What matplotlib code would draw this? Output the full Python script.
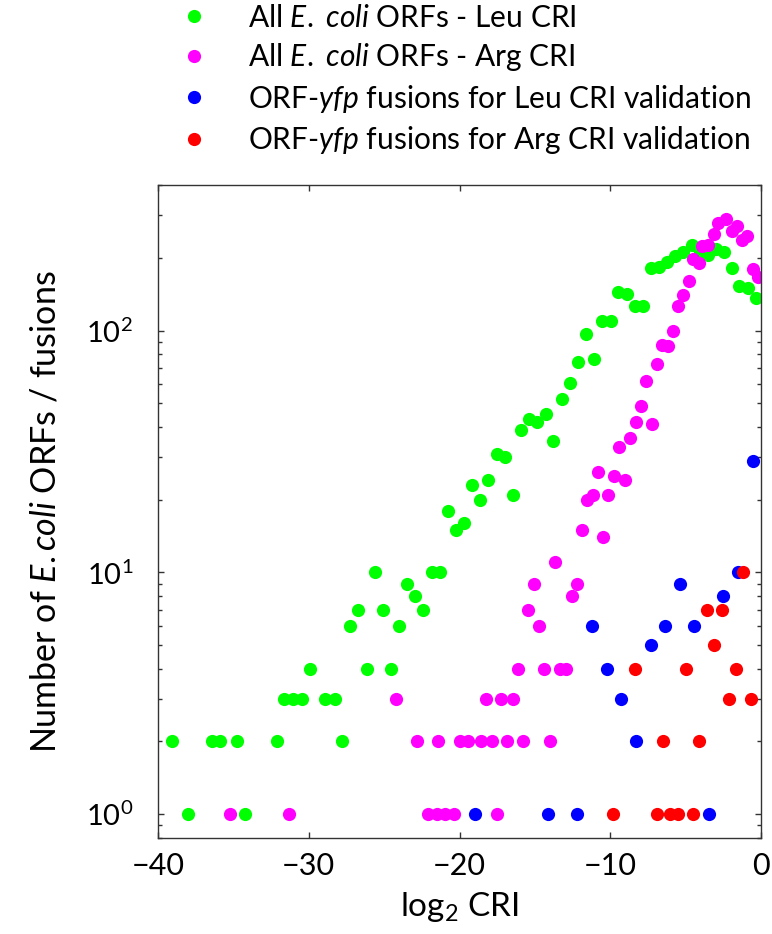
"""Counts of E. coli ORFs / ORF-yfp fusions against log2 CRI (log-scale y)."""

import matplotlib
matplotlib.use("Agg")
import matplotlib.pyplot as plt

plt.rcParams['font.family'] = ['Lato', 'DejaVu Sans']
plt.rcParams['mathtext.fontset'] = 'custom'
plt.rcParams['mathtext.rm'] = 'Lato'
plt.rcParams['mathtext.it'] = 'Lato:italic'

# All E. coli ORFs - Leu CRI (green)
LEU_X = [-37.99, -34.23,
         -39.09, -36.44, -35.89, -34.78, -32.09, -27.77,
         -31.64, -31.02, -30.47, -28.92, -28.26,
         -29.92, -26.16, -24.54,
         -27.26, -23.99,
         -26.71, -25.05, -22.40,
         -22.95, -23.50,
         -25.60, -21.84, -21.29,
         -20.74, -20.23, -19.68, -19.15, -18.64, -18.09, -17.53, -16.98, -16.47,
         -15.94, -15.39, -14.84, -14.28, -13.78, -13.22, -12.67, -12.16, -11.61,
         -11.08, -10.53, -9.98, -9.47, -8.91, -8.36, -7.81, -7.32, -6.77, -6.26,
         -5.71, -5.15, -4.60, -4.05, -3.50, -2.99, -2.43, -1.90, -1.44, -0.84, -0.33]
LEU_N = [1, 1,
         2, 2, 2, 2, 2, 2,
         3, 3, 3, 3, 3,
         4, 4, 4,
         6, 6,
         7, 7, 7,
         8, 9,
         10, 10, 10,
         18, 15, 16, 23, 20, 24, 31, 30, 21,
         39, 43, 42, 45, 35, 52, 61, 74, 97,
         76, 110, 110, 144, 142, 127, 127, 181, 183, 193,
         204, 212, 226, 212, 205, 218, 211, 182, 153, 150, 137]

# All E. coli ORFs - Arg CRI (magenta)
ARG_X = [-35.22, -31.31, -22.07, -21.52, -20.96, -20.40, -17.53,
         -22.84, -21.45, -19.97, -19.42, -18.59, -17.86, -16.83, -15.77, -14.00,
         -24.23, -18.24, -17.25, -16.47,
         -16.14, -14.37, -13.33, -12.94,
         -14.71, -15.44, -12.56, -15.04, -12.23, -13.67,
         -11.90, -11.52, -11.17, -10.83, -10.46, -10.13, -9.75, -9.42, -9.02,
         -8.69, -8.31, -7.98, -7.63, -7.25, -6.92, -6.59, -6.15, -5.86, -5.53,
         -5.15, -4.78, -4.49, -4.09, -3.94, -3.50, -3.10, -2.83, -2.32, -1.94,
         -1.61, -1.28, -0.90, -0.55, -0.18]
ARG_N = [1, 1, 1, 1, 1, 1, 1,
         2, 2, 2, 2, 2, 2, 2, 2, 2,
         3, 3, 3, 3,
         4, 4, 4, 4,
         6, 7, 8, 9, 9, 11,
         15, 20, 21, 26, 14, 21, 25, 33, 24,
         36, 42, 49, 62, 41, 73, 87, 86, 100, 127,
         140, 160, 197, 190, 224, 227, 252, 279, 290, 257,
         270, 238, 246, 179, 166]

# ORF-yfp fusions for Leu CRI validation (blue)
LEU_FUS_X = [-18.97, -14.11, -12.20, -3.43, -8.29, -9.29, -10.24, -7.32,
             -11.19, -6.35, -4.42, -2.50, -5.37, -1.55, -0.51]
LEU_FUS_N = [1, 1, 1, 1, 2, 3, 4, 5, 6, 6, 6, 8, 9, 10, 29]

# ORF-yfp fusions for Arg CRI validation (red)
ARG_FUS_X = [-9.84, -6.92, -6.04, -5.49, -4.49, -6.48, -4.09, -2.12, -0.68,
             -8.36, -5.00, -1.66, -3.10, -3.60, -2.61, -1.17]
ARG_FUS_N = [1, 1, 1, 1, 1, 2, 2, 3, 3, 4, 4, 4, 5, 7, 7, 10]

LABELS = [r"All $\it{E.}$ $\it{coli}$ ORFs - Leu CRI",
          r"All $\it{E.}$ $\it{coli}$ ORFs - Arg CRI",
          r"ORF-$\it{yfp}$ fusions for Leu CRI validation",
          r"ORF-$\it{yfp}$ fusions for Arg CRI validation"]
COLORS = ["#00ff00", "#ff00ff", "#0000ff", "#ff0000"]

fig = plt.figure(figsize=(7.72, 9.34), dpi=100)
ax = fig.add_axes([0.2047, 0.1031, 0.7811, 0.6988])

series = [(LEU_X, LEU_N), (ARG_X, ARG_N), (LEU_FUS_X, LEU_FUS_N), (ARG_FUS_X, ARG_FUS_N)]
handles = []
for (xs, ns), color, label in zip(series, COLORS, LABELS):
    line, = ax.plot(xs, ns, "o", color=color, markersize=9.5,
                    markeredgewidth=0, label=label)
    handles.append(line)

ax.set_yscale("log")
ax.set_xlim(-40, 0)
ax.set_ylim(0.8, 400)
ax.set_xticks([-40, -30, -20, -10, 0])
ax.set_xticklabels(["\u221240", "\u221230", "\u221220", "\u221210", "0"])

for spine in ax.spines.values():
    spine.set_color("#333333")
    spine.set_linewidth(1.0)
ax.tick_params(which="both", direction="in", top=True, right=True, color="#333333")
ax.tick_params(axis="x", labelsize=22, pad=10)
ax.tick_params(axis="y", labelsize=21, pad=18)
ax.tick_params(which="major", length=4.5, width=1.0)
ax.tick_params(which="minor", length=3, width=1.0)

ax.set_xlabel(r"log$_2$ CRI", fontsize=24)
ax.xaxis.set_label_coords(0.5, -0.08)
ax.set_ylabel(r"Number of $\it{E.coli}$ ORFs / fusions", fontsize=24.5)
ax.yaxis.set_label_coords(-0.16, 0.5)

fig.legend(handles=handles, loc="upper left", bbox_to_anchor=(0.24, 0.996),
           frameon=False, fontsize=21.5, handlelength=0.6, handletextpad=1.5,
           labelspacing=0.32, borderaxespad=0.0, borderpad=0.0)

fig.savefig("out.png", dpi=100)
